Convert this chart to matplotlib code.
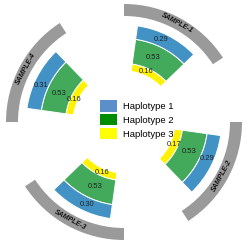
import numpy as np
import matplotlib
matplotlib.use('Agg')
import matplotlib.pyplot as plt
import matplotlib.patches as mpatches

# datos
muestras = ['SAMPLE-1', 'SAMPLE-2', 'SAMPLE-3', 'SAMPLE-4']
haplotipos = ['Haplotype 1', 'Haplotype 2', 'Haplotype 3']
hap1 = [0.29, 0.29, 0.30, 0.31]
hap2 = [0.53, 0.53, 0.53, 0.53]
hap3 = [0.16, 0.17, 0.16, 0.16]

col_sector = {'Haplotype 1': '#4292c6', 'Haplotype 2': '#43a95b', 'Haplotype 3': '#fff200'}
col_leyenda = {'Haplotype 1': '#5b8fc9', 'Haplotype 2': '#008c00', 'Haplotype 3': '#ffff00'}

W, H = 250, 246
cx, cy, R = 124, 122, 122
fig = plt.figure(figsize=(W / 100, H / 100), dpi=100)
ax = fig.add_axes([(cx - R) / W, (H - cy - R) / H, 2 * R / W, 2 * R / H], projection='polar')
ax.set_theta_zero_location('N')
ax.set_theta_direction(-1)
ax.set_ylim(0, R)
ax.set_axis_off()

r0 = 51      # radio interior
esc = 47     # px por unidad
for i, nombre in enumerate(muestras):
    base = 90 * i
    # arco gris
    ax.bar(np.radians(base + 28.5), 12, width=np.radians(57), bottom=106,
           color='#9a9a9a', edgecolor='none')
    rot = ((-(base + 28.5) + 90) % 180) - 90
    ax.text(np.radians(base + 28.5), 112, nombre, rotation=rot, ha='center', va='center',
            fontsize=5, fontweight='bold', fontstyle='italic', color='#111111',
            family='Liberation Sans')
    # sectores apilados: hap3 adentro, hap2, hap1 afuera
    abajo = r0
    for hap, vals in [('Haplotype 3', hap3), ('Haplotype 2', hap2), ('Haplotype 1', hap1)]:
        alto = vals[i] * esc
        ax.bar(np.radians(base + 27), alto, width=np.radians(38), bottom=abajo,
               color=col_sector[hap], edgecolor='white', linewidth=0.7)
        ax.text(np.radians(base + 24), abajo + alto / 2, '%.2f' % vals[i],
                ha='center', va='center', fontsize=5.5, color='#222222',
                family='Liberation Sans')
        abajo += alto

# Leyenda
etiquetas = [mpatches.Patch(facecolor=col_leyenda[h], edgecolor='none', label=h) for h in haplotipos]
fig.legend(handles=etiquetas, loc='upper left', bbox_to_anchor=(100 / W, 1 - 100 / H),
           frameon=False, borderpad=0, borderaxespad=0, prop={'family': 'Liberation Sans', 'size': 6.8},
           handlelength=1.85, handleheight=1.5, handletextpad=0.6, labelspacing=0.25)

fig.savefig('out.png', dpi=100)
